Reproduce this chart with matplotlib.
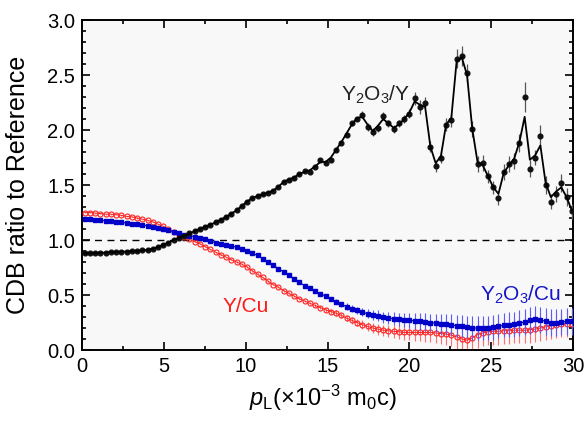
import numpy as np
import matplotlib
matplotlib.use('Agg')
import matplotlib.pyplot as plt
from matplotlib.ticker import MultipleLocator

plt.rcParams['font.family'] = ['Liberation Sans', 'DejaVu Sans']
plt.rcParams['mathtext.fontset'] = 'custom'
plt.rcParams['mathtext.rm'] = 'Liberation Sans'
plt.rcParams['mathtext.it'] = 'Liberation Sans:italic'

# momentum bins (x 10^-3 m0c)
p_L = 0.16 + 0.32 * np.arange(94)

# Y2O3/Y  (points)
y2o3_y = [0.88, 0.88, 0.88, 0.885, 0.885, 0.89, 0.89, 0.895, 0.895, 0.90,
          0.90, 0.905, 0.91, 0.92, 0.935, 0.955, 0.975, 1.0, 1.02, 1.04,
          1.06, 1.08, 1.10, 1.12, 1.14, 1.16, 1.185, 1.21, 1.24, 1.27,
          1.31, 1.35, 1.38, 1.40, 1.415, 1.43, 1.45, 1.485, 1.53, 1.55,
          1.56, 1.60, 1.63, 1.62, 1.66, 1.73, 1.70, 1.73, 1.82, 1.88,
          1.955, 2.06, 2.10, 2.14, 2.03, 1.985, 2.02, 2.13, 2.06, 2.01,
          2.06, 2.10, 2.15, 2.29, 2.21, 2.25, 1.85, 1.67, 1.75, 2.05,
          2.09, 2.65, 2.67, 2.52, 2.01, 1.69, 1.70, 1.58, 1.48, 1.38,
          1.62, 1.69, 1.72, 1.88, 2.30, 1.65, 1.75, 1.95, 1.50, 1.35,
          1.42, 1.52, 1.39, 1.26]
y2o3_y_err = [0.005, 0.005, 0.005, 0.005, 0.005, 0.005, 0.005, 0.005, 0.005, 0.005,
              0.005, 0.005, 0.005, 0.005, 0.005, 0.005, 0.005, 0.005, 0.005, 0.005,
              0.005, 0.005, 0.005, 0.005, 0.005, 0.005, 0.005, 0.005, 0.005, 0.005,
              0.01, 0.01, 0.01, 0.01, 0.01, 0.01, 0.01, 0.01, 0.01, 0.01,
              0.01, 0.01, 0.01, 0.01, 0.01, 0.02, 0.02, 0.02, 0.02, 0.02,
              0.02, 0.02, 0.02, 0.035, 0.035, 0.035, 0.035, 0.035, 0.035, 0.035,
              0.035, 0.035, 0.04, 0.06, 0.06, 0.05, 0.05, 0.05, 0.05, 0.06,
              0.06, 0.09, 0.09, 0.08, 0.07, 0.07, 0.07, 0.06, 0.06, 0.06,
              0.07, 0.07, 0.07, 0.08, 0.14, 0.08, 0.07, 0.10, 0.08, 0.07,
              0.07, 0.08, 0.08, 0.07]
# Y2O3/Y  (smooth guide line)
y2o3_y_fit = [0.88, 0.88, 0.88, 0.885, 0.885, 0.89, 0.89, 0.895, 0.895, 0.90,
              0.90, 0.905, 0.91, 0.92, 0.935, 0.955, 0.975, 1.0, 1.02, 1.04,
              1.06, 1.08, 1.10, 1.12, 1.14, 1.16, 1.185, 1.21, 1.24, 1.27,
              1.31, 1.35, 1.38, 1.40, 1.415, 1.43, 1.45, 1.485, 1.53, 1.55,
              1.57, 1.60, 1.62, 1.635, 1.67, 1.71, 1.71, 1.75, 1.82, 1.89,
              1.97, 2.05, 2.11, 2.12, 2.05, 1.99, 2.04, 2.10, 2.06, 2.02,
              2.05, 2.10, 2.16, 2.26, 2.23, 2.21, 1.85, 1.70, 1.76, 2.05,
              2.11, 2.62, 2.66, 2.50, 2.01, 1.71, 1.68, 1.58, 1.48, 1.42,
              1.61, 1.68, 1.74, 1.89, 2.12, 1.73, 1.77, 1.86, 1.52, 1.39,
              1.44, 1.48, 1.39, 1.27]

# Y2O3/Cu
y2o3_cu = [1.19, 1.19, 1.185, 1.18, 1.175, 1.17, 1.165, 1.16, 1.155, 1.15,
           1.145, 1.135, 1.13, 1.12, 1.11, 1.10, 1.09, 1.075, 1.06, 1.05,
           1.04, 1.03, 1.02, 1.005, 0.99, 0.975, 0.965, 0.955, 0.945, 0.935,
           0.92, 0.90, 0.88, 0.86, 0.83, 0.80, 0.77, 0.74, 0.71, 0.68,
           0.65, 0.615, 0.585, 0.56, 0.535, 0.51, 0.49, 0.465, 0.44, 0.415,
           0.395, 0.375, 0.36, 0.345, 0.33, 0.32, 0.31, 0.30, 0.29, 0.285,
           0.28, 0.275, 0.27, 0.265, 0.26, 0.255, 0.25, 0.245, 0.24, 0.235,
           0.23, 0.22, 0.215, 0.205, 0.20, 0.20, 0.20, 0.20, 0.205, 0.215,
           0.225, 0.23, 0.235, 0.245, 0.255, 0.27, 0.28, 0.275, 0.26, 0.25,
           0.25, 0.255, 0.26, 0.26]
y2o3_cu_err = [0.005, 0.005, 0.005, 0.005, 0.005, 0.005, 0.005, 0.005, 0.005, 0.005,
               0.005, 0.005, 0.005, 0.005, 0.005, 0.005, 0.005, 0.005, 0.005, 0.005,
               0.005, 0.005, 0.005, 0.005, 0.005, 0.005, 0.005, 0.005, 0.005, 0.005,
               0.008, 0.008, 0.008, 0.008, 0.008, 0.008, 0.008, 0.008, 0.008, 0.008,
               0.01, 0.01, 0.01, 0.01, 0.01, 0.015, 0.02, 0.02, 0.025, 0.025,
               0.03, 0.03, 0.035, 0.035, 0.04, 0.045, 0.05, 0.05, 0.055, 0.06,
               0.06, 0.065, 0.07, 0.07, 0.075, 0.08, 0.08, 0.085, 0.09, 0.09,
               0.095, 0.10, 0.10, 0.10, 0.11, 0.11, 0.11, 0.11, 0.11, 0.11,
               0.11, 0.115, 0.115, 0.12, 0.12, 0.12, 0.12, 0.12, 0.12, 0.12,
               0.12, 0.12, 0.12, 0.12]

# Y/Cu
y_cu = [1.25, 1.25, 1.245, 1.24, 1.235, 1.235, 1.23, 1.225, 1.215, 1.21,
        1.20, 1.19, 1.18, 1.165, 1.145, 1.125, 1.10, 1.07, 1.045, 1.025,
        1.005, 0.985, 0.965, 0.94, 0.915, 0.89, 0.865, 0.845, 0.82, 0.80,
        0.78, 0.755, 0.72, 0.69, 0.66, 0.625, 0.595, 0.57, 0.54, 0.515,
        0.49, 0.465, 0.445, 0.425, 0.405, 0.385, 0.365, 0.35, 0.335, 0.315,
        0.29, 0.27, 0.25, 0.23, 0.215, 0.20, 0.19, 0.18, 0.175, 0.17,
        0.165, 0.16, 0.16, 0.16, 0.16, 0.16, 0.16, 0.155, 0.15, 0.145,
        0.135, 0.12, 0.10, 0.09, 0.11, 0.14, 0.155, 0.165, 0.17, 0.17,
        0.175, 0.175, 0.18, 0.18, 0.18, 0.185, 0.19, 0.20, 0.21, 0.22,
        0.23, 0.235, 0.24, 0.24]
y_cu_err = [0.005, 0.005, 0.005, 0.005, 0.005, 0.005, 0.005, 0.005, 0.005, 0.005,
            0.005, 0.005, 0.005, 0.005, 0.005, 0.005, 0.005, 0.005, 0.005, 0.005,
            0.005, 0.005, 0.005, 0.005, 0.005, 0.005, 0.005, 0.005, 0.005, 0.005,
            0.008, 0.008, 0.008, 0.008, 0.008, 0.008, 0.008, 0.008, 0.008, 0.008,
            0.01, 0.01, 0.01, 0.01, 0.015, 0.015, 0.02, 0.02, 0.025, 0.025,
            0.03, 0.03, 0.035, 0.04, 0.04, 0.045, 0.05, 0.05, 0.055, 0.06,
            0.065, 0.07, 0.07, 0.075, 0.08, 0.085, 0.09, 0.09, 0.095, 0.10,
            0.10, 0.11, 0.11, 0.12, 0.12, 0.12, 0.12, 0.12, 0.12, 0.12,
            0.12, 0.12, 0.12, 0.12, 0.12, 0.12, 0.12, 0.12, 0.12, 0.12,
            0.12, 0.12, 0.12, 0.12]

fig = plt.figure(figsize=(5.86, 4.21), dpi=100)
ax = fig.add_axes([0.140, 0.1686, 0.838, 0.7838])
ax.set_facecolor('#f8f8f8')

ax.axhline(1.0, color='black', lw=1.0, ls=(0, (5, 4)), zorder=1)

# Y/Cu
ax.errorbar(p_L, y_cu, yerr=y_cu_err, fmt='-', color='#ff2020', lw=0.7,
            ecolor='#ff7070', elinewidth=0.8, capsize=0, zorder=2)
ax.plot(p_L, y_cu, 'o', ms=3.6, mfc='none', mec='#ff2020', mew=0.8, zorder=3)

# Y2O3/Cu
ax.errorbar(p_L, y2o3_cu, yerr=y2o3_cu_err, fmt='s-', color='#0000c8', ms=3.2,
            lw=0.8, ecolor='#5a5aff', elinewidth=0.8, capsize=0, zorder=4)

# Y2O3/Y
ax.errorbar(p_L, y2o3_y, yerr=y2o3_y_err, fmt='o', color='#111111', ms=3.4,
            ecolor='#555555', elinewidth=0.9, capsize=0, zorder=5)
ax.plot(p_L, y2o3_y_fit, '-', color='black', lw=1.3, zorder=6)

ax.text(15.8, 2.27, r'Y$_\mathrm{2}$O$_\mathrm{3}$/Y', fontsize=15, color='#222222')
ax.text(8.6, 0.345, 'Y/Cu', fontsize=15, color='#ff1a1a')
ax.text(24.3, 0.445, r'Y$_\mathrm{2}$O$_\mathrm{3}$/Cu', fontsize=15, color='#1515c8')

ax.set_xlim(0, 30)
ax.set_ylim(0, 3.0)
ax.xaxis.set_major_locator(MultipleLocator(5))
ax.xaxis.set_minor_locator(MultipleLocator(2.5))
ax.yaxis.set_major_locator(MultipleLocator(0.5))
ax.yaxis.set_minor_locator(MultipleLocator(0.1))
ax.tick_params(which='both', direction='in', top=True, right=True, width=1.2)
ax.tick_params(which='major', length=6, labelsize=14.5, pad=5)
ax.tick_params(which='minor', length=3)
for s in ax.spines.values():
    s.set_linewidth(1.4)

ax.set_ylabel('CDB ratio to Reference', fontsize=18)
ax.yaxis.set_label_coords(-0.105, 0.5)
ax.set_xlabel(r'$p_\mathrm{L}$(×10$^{-3}$ m$_\mathrm{0}$c)', fontsize=17)
ax.xaxis.set_label_coords(0.49, -0.10)

fig.savefig('out.png', dpi=100)
